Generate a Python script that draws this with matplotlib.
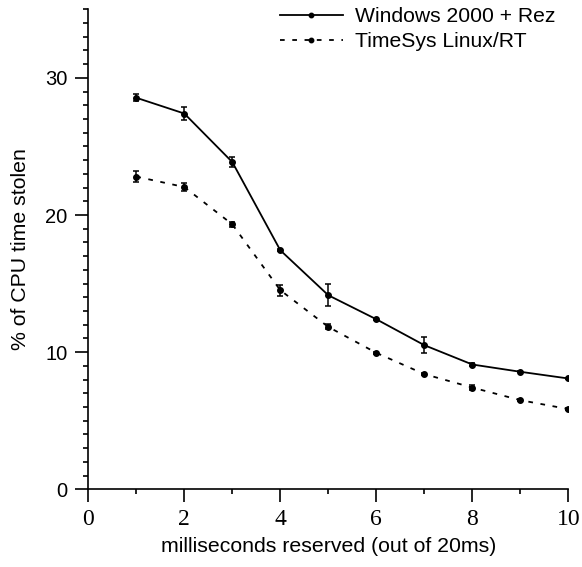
import numpy as np
import matplotlib
matplotlib.use("Agg")
import matplotlib.pyplot as plt
from matplotlib.lines import Line2D
from matplotlib.ticker import MultipleLocator

# milliseconds reserved
ms = [1, 2, 3, 4, 5, 6, 7, 8, 9, 10]

# Windows 2000 + Rez
win_y = [28.55, 27.4, 23.86, 17.43, 14.15, 12.4, 10.51, 9.1, 8.57, 8.08]
win_err = [0.27, 0.45, 0.38, 0.08, 0.8, 0.05, 0.6, 0.12, 0.05, 0.05]

# TimeSys Linux/RT
ts_y = [22.8, 22.04, 19.32, 14.52, 11.84, 9.95, 8.4, 7.42, 6.5, 5.85]
ts_err = [0.4, 0.3, 0.18, 0.4, 0.18, 0.08, 0.06, 0.18, 0.05, 0.05]

labels = ["Windows 2000 + Rez", "TimeSys Linux/RT"]

sans = "Liberation Sans"
serif = "Liberation Serif"

fig = plt.figure(figsize=(5.82, 5.67), dpi=100)
ax = fig.add_axes([88.3 / 582, (567 - 489.3) / 567, 480 / 582, 480 / 567])

lw = 1.3
dash = (0, (2.6, 4.2))

ax.errorbar(ms, win_y, yerr=win_err, color="black", lw=lw, marker="o", ms=4,
            capsize=2.5, elinewidth=1.1, capthick=1.1)
ax.errorbar(ms, ts_y, yerr=ts_err, color="black", lw=lw, ls=dash, marker="o", ms=4,
            capsize=2.5, elinewidth=1.1, capthick=1.1)

ax.set_xlim(0, 10)
ax.set_ylim(0, 35)
ax.xaxis.set_major_locator(MultipleLocator(2))
ax.xaxis.set_minor_locator(MultipleLocator(1))
ax.yaxis.set_major_locator(MultipleLocator(10))
ax.yaxis.set_minor_locator(MultipleLocator(1))
ax.set_yticks([0, 10, 20, 30])

for s in ["top", "right"]:
    ax.spines[s].set_visible(False)
for s in ["left", "bottom"]:
    ax.spines[s].set_linewidth(1.2)

ax.tick_params(which="major", direction="out", length=9.4, width=1.2)
ax.tick_params(which="minor", direction="out", length=3.6, width=1.2)
ax.tick_params(axis="y", which="major", pad=5.5)
ax.tick_params(axis="x", which="major", pad=5)

for t in ax.get_yticklabels():
    t.set_fontfamily(sans)
    t.set_fontsize(14.5)
for t in ax.get_xticklabels():
    t.set_fontfamily(serif)
    t.set_fontsize(17)

ax.set_xlabel("milliseconds reserved (out of 20ms)", fontfamily=sans, fontsize=15.3, labelpad=5)
ax.set_ylabel("% of CPU time stolen", fontfamily=sans, fontsize=15.3, labelpad=11)

handles = [Line2D([], [], color="black", lw=lw, marker="o", ms=3.2),
           Line2D([], [], color="black", lw=lw, ls=dash, marker="o", ms=3.2)]
ax.legend(handles, labels, loc="upper left", bbox_to_anchor=(0.399, 1.005), frameon=False,
          numpoints=1, handlelength=3.0, handletextpad=0.55, borderpad=0, borderaxespad=0,
          labelspacing=0.3, prop={"family": sans, "size": 15.2})

fig.savefig("out.png", dpi=100)
